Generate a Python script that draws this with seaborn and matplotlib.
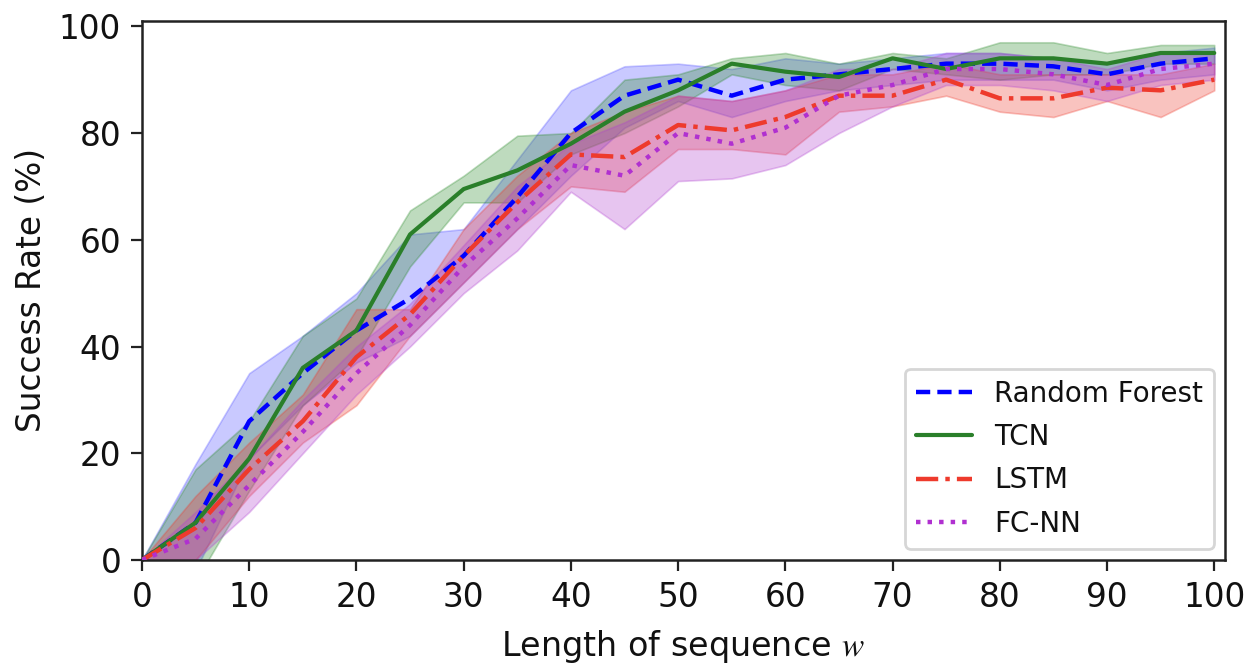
import numpy as np
import pandas as pd
import matplotlib
matplotlib.use("Agg")
import matplotlib.pyplot as plt
import seaborn as sns

# ---- data ----
w = [0, 5, 10, 15, 20, 25, 30, 35, 40, 45, 50, 55, 60, 65, 70, 75, 80, 85, 90, 95, 100]

rf_mean = [0, 7, 26, 35, 43, 49, 57, 68, 80, 87, 90, 87, 90, 91, 92, 93, 93, 92.5, 91, 93, 94]
rf_low  = [0, -2, 19, 29, 37, 42, 52, 62, 72, 81, 86, 83, 86, 88, 89, 90, 90, 90, 88, 90, 91]
rf_high = [0, 18, 35, 42, 50, 61, 62, 75, 88, 92.5, 93, 92, 94, 93, 94, 95, 95, 94, 93, 95, 96]

tcn_mean = [0, 7, 19, 36, 43, 61, 69.5, 73, 78, 84, 88, 93, 91.5, 90.5, 94, 92, 94, 94, 93, 95, 95]
tcn_low  = [0, -4, 13, 29, 38, 55, 67, 67, 76, 80, 85, 91, 89, 88, 92, 91, 90, 91, 91, 93, 93]
tcn_high = [0, 17, 26, 42, 49, 65.5, 72, 79.5, 80, 90, 91, 94, 95, 93, 95, 94, 97, 97, 95, 96.5, 96.5]

lstm_mean = [0, 6, 17, 26, 38, 46, 57, 67, 76, 75.5, 81.5, 80.5, 83, 87, 87, 90, 86.5, 86.5, 88.5, 88, 90]
lstm_low  = [0, 0, 12, 22, 29, 42, 52, 62, 70, 69, 77, 77, 76, 84, 85, 87, 84, 83, 86, 83, 88]
lstm_high = [0, 12, 22, 31, 47, 47, 62, 72, 80, 84, 87, 86, 88, 91, 91, 93, 91, 91, 91, 91, 93]

fc_mean = [0, 4, 14, 24, 35, 44, 55, 64, 74, 72, 80, 78, 81, 87, 89, 92, 92, 91, 89, 92, 93]
fc_low  = [0, 0, 9, 20, 31, 40, 50, 58, 69, 62, 71, 71.5, 74, 80, 85, 89, 89, 88, 86, 89, 90]
fc_high = [0, 9, 19, 30, 40, 48, 59, 70, 78, 82, 87, 86, 88, 92, 92, 95, 95, 94, 92, 95, 95]

names = ["Random Forest", "TCN", "LSTM", "FC-NN"]

# ---- style ----
sns.set_style("ticks")
plt.rcParams["font.family"] = ["DejaVu Sans"]
plt.rcParams["mathtext.fontset"] = "stix"
plt.rcParams["text.color"] = "#111111"
plt.rcParams["axes.labelcolor"] = "#111111"

fig = plt.figure(figsize=(6.26, 3.36), dpi=200)
ax = fig.add_axes([0.1134, 0.1667, 0.8650, 0.8021])

series = [
    (rf_mean, rf_low, rf_high, "#0000ff", "#4d4dff", (0, (3.2, 1.6)), 1.6),
    (tcn_mean, tcn_low, tcn_high, "#2a7f2a", "#2a8a2a", "-", 1.5),
    (lstm_mean, lstm_low, lstm_high, "#ee3a2c", "#ee3a2c", (0, (5, 1.6, 1, 1.6)), 1.6),
    (fc_mean, fc_low, fc_high, "#b030d0", "#b040d0", (0, (1, 1.6)), 1.6),
]

for name, (m, lo, hi, c, fc, ls, lw) in zip(names, series):
    df = pd.DataFrame({"w": w, "rate": m})
    sns.lineplot(data=df, x="w", y="rate", ax=ax, color=c, linestyle=ls,
                 linewidth=lw, label=name, zorder=3)
    ax.fill_between(w, lo, hi, color=fc, alpha=0.3, linewidth=0.6, zorder=2)

ax.set_xlim(0, 101)
ax.set_ylim(0, 101)
ax.set_xticks(range(0, 101, 10))
ax.set_yticks(range(0, 101, 20))
ax.tick_params(labelsize=11.8, length=4, width=0.8, color="#222222", labelcolor="#111111")
for s in ax.spines.values():
    s.set_linewidth(0.9)
    s.set_color("#222222")
    s.set_visible(True)
ax.set_xlabel(r"Length of sequence $\mathit{w}$", fontsize=12, labelpad=5)
ax.set_ylabel("Success Rate (%)", fontsize=11.8, labelpad=4)

leg = ax.legend(loc="lower right", fontsize=10, frameon=True, borderaxespad=0.4,
                handlelength=2.0, labelspacing=0.55)
leg.get_frame().set_edgecolor("#cccccc")

fig.savefig("out.png", dpi=200)
